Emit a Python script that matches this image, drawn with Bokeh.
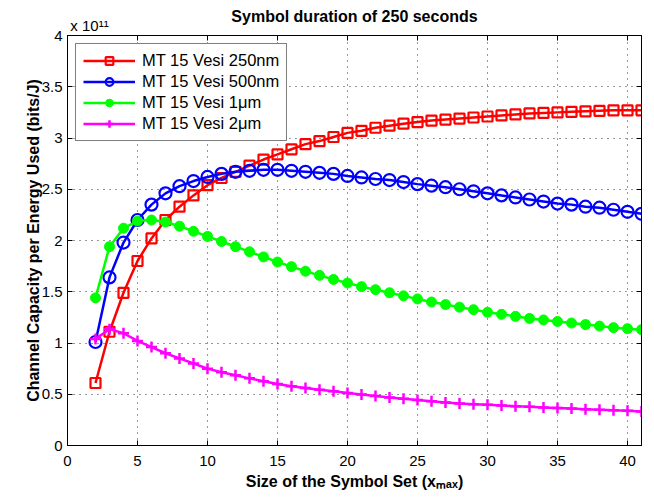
from bokeh.plotting import figure
from bokeh.models import LinearAxis, FixedTicker
from bokeh.embed import file_html
from bokeh.resources import INLINE

# ---- data (values in units of 1e11 bits/J) ----
x_vals = list(range(2, 42))

red_250nm = [0.61, 1.11, 1.49, 1.80, 2.02, 2.20, 2.33, 2.44, 2.54, 2.61,
             2.67, 2.73, 2.79, 2.84, 2.89, 2.94, 2.97, 3.01, 3.05, 3.07,
             3.10, 3.12, 3.14, 3.155, 3.17, 3.18, 3.19, 3.20, 3.21, 3.22,
             3.23, 3.24, 3.245, 3.25, 3.255, 3.26, 3.265, 3.27, 3.27, 3.27]

blue_500nm = [1.01, 1.64, 1.98, 2.20, 2.35, 2.46, 2.53, 2.58, 2.62, 2.65,
              2.67, 2.68, 2.69, 2.69, 2.68, 2.67, 2.66, 2.65, 2.63, 2.615,
              2.60, 2.59, 2.57, 2.55, 2.535, 2.52, 2.50, 2.48, 2.46, 2.44,
              2.42, 2.40, 2.38, 2.36, 2.35, 2.33, 2.32, 2.30, 2.28, 2.26]

green_1um = [1.44, 1.94, 2.12, 2.19, 2.20, 2.18, 2.14, 2.09, 2.04, 1.99,
             1.94, 1.89, 1.84, 1.79, 1.745, 1.70, 1.66, 1.62, 1.585, 1.55,
             1.52, 1.49, 1.46, 1.43, 1.40, 1.375, 1.35, 1.325, 1.30, 1.28,
             1.26, 1.24, 1.225, 1.21, 1.195, 1.18, 1.165, 1.15, 1.14, 1.13]

magenta_2um = [1.04, 1.135, 1.095, 1.02, 0.96, 0.90, 0.85, 0.80, 0.75, 0.715,
               0.685, 0.655, 0.627, 0.60, 0.578, 0.562, 0.545, 0.53, 0.513, 0.497,
               0.482, 0.468, 0.455, 0.445, 0.432, 0.42, 0.41, 0.403, 0.397, 0.39,
               0.383, 0.377, 0.37, 0.366, 0.36, 0.354, 0.348, 0.344, 0.338, 0.332]

series_names = ["MT 15 Vesi 250nm", "MT 15 Vesi 500nm", "MT 15 Vesi 1\u03bcm", "MT 15 Vesi 2\u03bcm"]

x_ticks = [0, 5, 10, 15, 20, 25, 30, 35, 40]
y_ticks = [0, 0.5, 1, 1.5, 2, 2.5, 3, 3.5, 4]
y_tick_labels = ["0", "0.5", "1", "1.5", "2", "2.5", "3", "3.5", "4"]

title_text = "Symbol duration of 250 seconds"
xlabel_text = "Size of the Symbol Set (x\u2098\u2090\u2093)"
ylabel_text = "Channel Capacity per Energy Used (bits/J)"
exponent_text = "x 10\u00b9\u00b9"

FONT = "Liberation Sans"

p = figure(width=654, height=497, x_range=(0, 41), y_range=(0, 4),
           output_backend="svg", toolbar_location=None,
           min_border_left=67, min_border_right=13, min_border_top=35,
           min_border_bottom=52)

p.background_fill_color = "white"
p.border_fill_color = "white"
p.outline_line_color = "black"
p.outline_line_width = 1

# main axes
for ax in (p.xaxis[0], p.yaxis[0]):
    ax.major_tick_in = 5
    ax.major_tick_out = 0
    ax.minor_tick_in = 0
    ax.minor_tick_out = 0
    ax.axis_line_color = "black"
    ax.major_tick_line_color = "black"
    ax.major_label_text_font = FONT
    ax.major_label_text_font_size = "15px"
    ax.major_label_text_color = "black"
    ax.axis_label_text_font = FONT
    ax.axis_label_text_font_size = "16px"
    ax.axis_label_text_font_style = "bold"
    ax.axis_label_text_color = "black"

p.xaxis.ticker = FixedTicker(ticks=x_ticks)
p.yaxis.ticker = FixedTicker(ticks=y_ticks)
p.xaxis.major_label_standoff = 10
p.yaxis.major_label_standoff = 5
p.yaxis.major_label_overrides = {t: l for t, l in zip(y_ticks, y_tick_labels)}
p.xaxis.axis_label = xlabel_text
p.yaxis.axis_label = ylabel_text
p.xaxis.axis_label_standoff = 4
p.yaxis.axis_label_standoff = -3

# box ticks on right and top (no labels)
right_ax = LinearAxis(ticker=FixedTicker(ticks=y_ticks), major_tick_in=5, major_tick_out=0,
                      minor_tick_in=0, minor_tick_out=0, major_label_text_font_size="1px",
                      major_label_overrides={t: "" for t in y_ticks},
                      major_label_standoff=0, axis_line_color="black")
top_ax = LinearAxis(ticker=FixedTicker(ticks=x_ticks), major_tick_in=5, major_tick_out=0,
                    minor_tick_in=0, minor_tick_out=0, major_label_text_font_size="1px",
                    major_label_overrides={t: "" for t in x_ticks},
                    major_label_standoff=0, axis_line_color="black")
p.add_layout(right_ax, "right")
p.add_layout(top_ax, "above")

# text row above the frame: exponent marker (tick label) + title (axis label)
exp_anchor = 1.57
text_ax = LinearAxis(ticker=FixedTicker(ticks=[exp_anchor]), major_tick_in=0, major_tick_out=0,
                     minor_tick_in=0, minor_tick_out=0, axis_line_color=None,
                     major_label_overrides={exp_anchor: exponent_text},
                     major_label_text_font=FONT, major_label_text_font_size="15px",
                     major_label_text_color="black", major_label_standoff=2,
                     axis_label=title_text, axis_label_text_font=FONT,
                     axis_label_text_font_size="16px", axis_label_text_font_style="bold",
                     axis_label_text_color="black", axis_label_standoff=-11)
p.add_layout(text_ax, "above")

# grid
p.xgrid.ticker = FixedTicker(ticks=x_ticks)
p.ygrid.ticker = FixedTicker(ticks=y_ticks)
for g in (p.xgrid[0], p.ygrid[0]):
    g.grid_line_color = "black"
    g.grid_line_dash = "1 5"
    g.grid_line_width = 1
    g.grid_line_alpha = 0.8

LW = 2.5
p.line(x_vals, red_250nm, line_color="#ff0000", line_width=LW, legend_label=series_names[0])
p.scatter(x_vals, red_250nm, marker="square", size=10, line_color="#ff0000", line_width=2.2,
          fill_color=None, legend_label=series_names[0])
p.line(x_vals, blue_500nm, line_color="#0000ff", line_width=LW, legend_label=series_names[1])
p.scatter(x_vals, blue_500nm, marker="circle", size=12, line_color="#0000ff", line_width=2.2,
          fill_color=None, legend_label=series_names[1])
p.line(x_vals, green_1um, line_color="#00ff00", line_width=LW, legend_label=series_names[2])
p.scatter(x_vals, green_1um, marker="circle", size=10, line_color="#00ff00",
          fill_color="#00ff00", legend_label=series_names[2])
p.line(x_vals, magenta_2um, line_color="#ff00ff", line_width=LW, legend_label=series_names[3])
p.scatter(x_vals, magenta_2um, marker="cross", size=11, line_color="#ff00ff", line_width=2.5,
          legend_label=series_names[3])

leg = p.legend[0]
leg.location = "top_left"
leg.margin = 8
leg.padding = 7
leg.spacing = 2
leg.glyph_width = 52
leg.glyph_height = 19
leg.label_height = 19
leg.label_standoff = 7
leg.label_text_font = FONT
leg.label_text_font_size = "16.5px"
leg.label_text_color = "black"
leg.border_line_color = "black"
leg.border_line_width = 1.2
leg.background_fill_color = "white"
leg.background_fill_alpha = 1

open("out.html", "w").write(file_html(p, INLINE))
